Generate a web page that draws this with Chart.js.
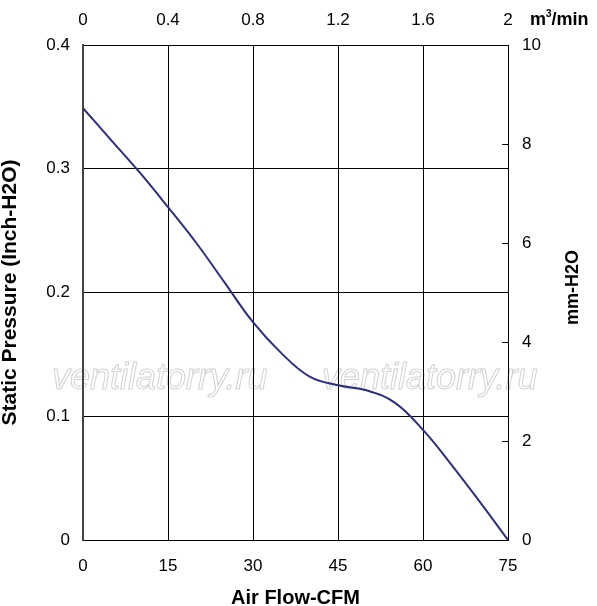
<!DOCTYPE html>
<html>
<head>
<meta charset="utf-8">
<script src="https://cdn.jsdelivr.net/npm/chart.js@4"></script>
<style>
  body { margin: 0; background: #fff; }
  #wrap { width: 597px; height: 606px; }
</style>
</head>
<body>
<div id="wrap"><canvas id="fan"></canvas></div>
<script>
// air flow (CFM) vs static pressure (inch H2O)
var cfmValues = [0, 5, 10, 15, 20, 25, 30, 35, 40, 45, 50, 55, 60, 65, 70, 75];
var pressureValues = [0.349, 0.323, 0.297, 0.269, 0.240, 0.208, 0.176, 0.151, 0.132, 0.125, 0.121, 0.111, 0.089, 0.061, 0.031, 0];

var cfmTicks = [0, 15, 30, 45, 60, 75];
var m3Ticks = [0, 0.4, 0.8, 1.2, 1.6, 2];
var inchTicks = [0, 0.1, 0.2, 0.3, 0.4];
var mmTicks = [0, 2, 4, 6, 8, 10];

var FONT = "'Liberation Sans', Arial, sans-serif";

function fixedTicks(list) {
  return function(scale) {
    scale.ticks = list.map(function(v) { return { value: v }; });
  };
}

var points = cfmValues.map(function(x, i) {
  return { x: x, y: pressureValues[i] };
});

// extra bits: watermark, right title, m3/min unit, inner ticks on the mm axis
var extras = {
  id: 'extras',
  beforeDraw: function(chart) {
    var ctx = chart.ctx;
    ctx.save();
    ctx.font = 'italic 36px ' + FONT;
    ctx.strokeStyle = '#d2d2d2';
    ctx.lineWidth = 1;
    ctx.textBaseline = 'alphabetic';
    ctx.strokeText('ventilatorry.ru', 52, 389);
    ctx.strokeText('ventilatorry.ru', 322, 389);
    ctx.restore();
  },
  afterDraw: function(chart) {
    var ctx = chart.ctx;
    var mm = chart.scales.y2;
    var area = chart.chartArea;
    ctx.save();
    ctx.strokeStyle = '#000';
    ctx.lineWidth = 1;
    mmTicks.forEach(function(v) {
      if (v === 0 || v === 10) return;
      var y = Math.round(mm.getPixelForValue(v)) + 0.5;
      ctx.beginPath();
      ctx.moveTo(area.right - 6, y);
      ctx.lineTo(area.right, y);
      ctx.stroke();
    });

    ctx.fillStyle = '#000';
    ctx.font = 'bold 18px ' + FONT;
    ctx.textAlign = 'center';
    ctx.textBaseline = 'middle';
    ctx.translate(573, (area.top + area.bottom) / 2 - 5);
    ctx.rotate(-Math.PI / 2);
    ctx.fillText('mm-H2O', 0, 0);
    ctx.restore();

    ctx.save();
    ctx.fillStyle = '#000';
    ctx.textAlign = 'left';
    ctx.textBaseline = 'alphabetic';
    var x = 530;
    ctx.font = 'bold 18px ' + FONT;
    ctx.fillText('m', x, 25);
    x += ctx.measureText('m').width;
    ctx.font = 'bold 10px ' + FONT;
    ctx.fillText('3', x, 17);
    x += ctx.measureText('3').width;
    ctx.font = 'bold 18px ' + FONT;
    ctx.fillText('/min', x, 25);
    ctx.restore();
  }
};

new Chart(document.getElementById('fan'), {
  type: 'scatter',
  data: {
    datasets: [{
      data: points,
      showLine: true,
      borderColor: '#2c2e82',
      borderWidth: 2,
      pointRadius: 0,
      tension: 0.4,
      fill: false
    }]
  },
  options: {
    responsive: true,
    maintainAspectRatio: false,
    animation: false,
    layout: { padding: 0 },
    plugins: {
      legend: { display: false },
      tooltip: { enabled: false }
    },
    scales: {
      x: {
        type: 'linear',
        position: 'bottom',
        min: 0,
        max: 75,
        afterBuildTicks: fixedTicks(cfmTicks),
        afterFit: function(s) { s.height = 66; },
        grid: { color: '#000', lineWidth: 1, drawTicks: false },
        border: { color: '#000', width: 1 },
        ticks: {
          padding: 16,
          color: '#000',
          font: { family: FONT, size: 17 },
          callback: function(v) { return String(v); }
        },
        title: {
          display: true,
          text: 'Air Flow-CFM',
          color: '#000',
          font: { family: FONT, size: 20, weight: 'bold', lineHeight: 0.8 },
          padding: 0
        }
      },
      x2: {
        type: 'linear',
        position: 'top',
        min: 0,
        max: 2,
        afterBuildTicks: fixedTicks(m3Ticks),
        afterFit: function(s) { s.height = 45; },
        grid: { drawOnChartArea: false, drawTicks: false },
        border: { color: '#000', width: 1 },
        ticks: {
          padding: 14,
          color: '#000',
          font: { family: FONT, size: 17 },
          callback: function(v) { return String(v); }
        }
      },
      y: {
        type: 'linear',
        position: 'left',
        min: 0,
        max: 0.4,
        afterBuildTicks: fixedTicks(inchTicks),
        afterFit: function(s) { s.width = 83; },
        grid: { color: '#000', lineWidth: 1, drawTicks: false },
        border: { color: '#444', width: 2 },
        ticks: {
          padding: 13,
          color: '#000',
          font: { family: FONT, size: 17 },
          callback: function(v) { return String(v); }
        },
        title: {
          display: true,
          text: 'Static Pressure (Inch-H2O)',
          color: '#000',
          font: { family: FONT, size: 21, weight: 'bold', lineHeight: 1 },
          padding: 0
        }
      },
      y2: {
        type: 'linear',
        position: 'right',
        min: 0,
        max: 10,
        afterBuildTicks: fixedTicks(mmTicks),
        afterFit: function(s) { s.width = 89; },
        grid: { drawOnChartArea: false, drawTicks: false },
        border: { color: '#000', width: 1 },
        ticks: {
          padding: 14,
          color: '#000',
          font: { family: FONT, size: 17 },
          callback: function(v) { return String(v); }
        }
      }
    }
  },
  plugins: [extras]
});
</script>
</body>
</html>
